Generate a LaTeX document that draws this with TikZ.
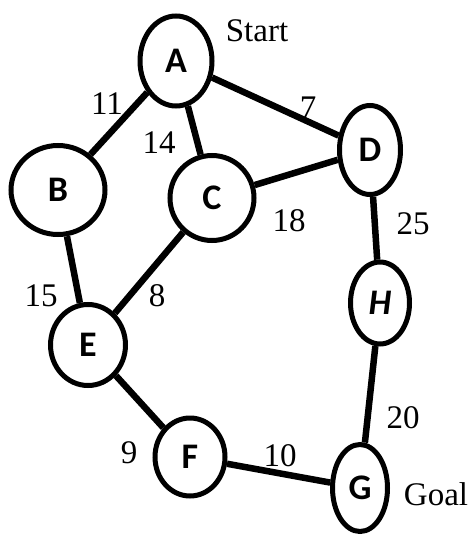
\documentclass[tikz,border=0pt]{standalone}
\usepackage{fontspec}
\setmainfont{Liberation Serif}
\newfontfamily\nodefont{Carlito}
\usetikzlibrary{shapes.geometric}
\begin{document}
\begin{tikzpicture}[x=1pt,y=-1pt,
  vert/.style={ellipse, draw, line width=5pt, inner sep=0pt, font=\nodefont\bfseries\fontsize{36}{36}\selectfont},
  edge/.style={line width=6.5pt},
  wlabel/.style={font=\fontsize{33}{33}\selectfont, inner sep=0pt}]
\useasboundingbox (0,0) rectangle (476,535);
\node[vert, minimum width=72pt, minimum height=90pt] (A) at (176,61) {A};
\node[vert, minimum width=94pt, minimum height=89pt] (B) at (58,190) {B};
\node[vert, minimum width=84pt, minimum height=85pt] (C) at (212,198) {C};
\node[vert, minimum width=61pt, minimum height=89pt] (D) at (370,150) {D};
\node[vert, minimum width=59pt, minimum height=82pt] (H) at (380,303) {\itshape H};
\node[vert, minimum width=75pt, minimum height=81pt] (E) at (88,345) {E};
\node[vert, minimum width=70pt, minimum height=78pt] (F) at (190,457) {F};
\node[vert, minimum width=55pt, minimum height=87pt] (G) at (360,488) {G};
\draw[edge] (A) -- (B);
\draw[edge] (A) -- (C);
\draw[edge] (A) -- (D);
\draw[edge] (C) -- (D);
\draw[edge] (B) -- (E);
\draw[edge] (C) -- (E);
\draw[edge] (D) -- (H);
\draw[edge] (E) -- (F);
\draw[edge] (F) -- (G);
\draw[edge] (H) -- (G);
\node[wlabel] (start) at (257,31) {Start};
\node[wlabel] (goal) at (436,494) {Goal};
\node[wlabel] (w11) at (107,104) {11};
\node[wlabel] (w14) at (159,143) {14};
\node[wlabel] (w7) at (308,108) {7};
\node[wlabel] (w18) at (289,221) {18};
\node[wlabel] (w25) at (413,224) {25};
\node[wlabel] (w15) at (41,296) {15};
\node[wlabel] (w8) at (157,296) {8};
\node[wlabel] (w20) at (403,418) {20};
\node[wlabel] (w9) at (129,453) {9};
\node[wlabel] (w10) at (280,456) {10};
\end{tikzpicture}
\end{document}
